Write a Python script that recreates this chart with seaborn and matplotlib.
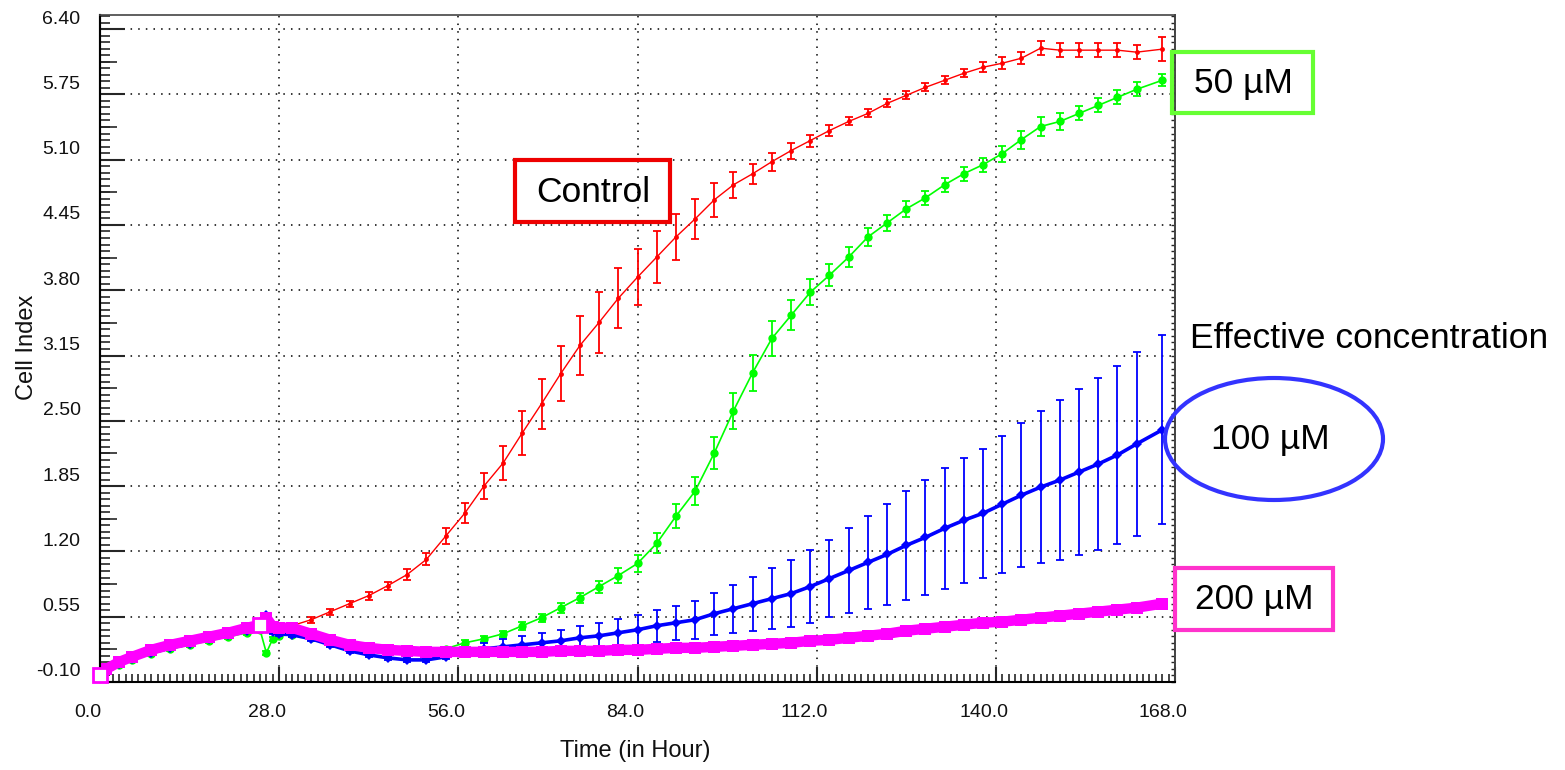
import numpy as np
import pandas as pd
import seaborn as sns
import matplotlib.pyplot as plt
from matplotlib.ticker import MultipleLocator, FixedLocator
from matplotlib.transforms import ScaledTranslation
from matplotlib.patches import Rectangle, Ellipse

# sampling times (hours)
hours = [0, 1, 3, 5, 8, 11, 14, 17, 20, 23,
         25, 26, 27, 28, 30, 33, 36, 39, 42, 45,
         48, 51, 54, 57, 60, 63, 66, 69, 72, 75,
         78, 81, 84, 87, 90, 93, 96, 99, 102, 105,
         108, 111, 114, 117, 120, 123, 126, 129, 132, 135,
         138, 141, 144, 147, 150, 153, 156, 159, 162, 166]

control = [-0.05, 0.02, 0.09, 0.14, 0.21, 0.26, 0.30, 0.34, 0.38, 0.42,
           0.45, 0.46, 0.45, 0.44, 0.46, 0.52, 0.60, 0.68, 0.76, 0.86,
           0.97, 1.12, 1.35, 1.58, 1.85, 2.08, 2.38, 2.67, 2.97, 3.25,
           3.48, 3.72, 3.93, 4.13, 4.33, 4.51, 4.70, 4.85, 4.96, 5.08,
           5.19, 5.29, 5.39, 5.48, 5.56, 5.66, 5.74, 5.82, 5.89, 5.96,
           6.02, 6.06, 6.11, 6.21, 6.19, 6.19, 6.19, 6.19, 6.17, 6.20]
control_err = [0.02, 0.02, 0.02, 0.02, 0.02, 0.02, 0.02, 0.02, 0.02, 0.02,
               0.02, 0.02, 0.02, 0.02, 0.03, 0.03, 0.03, 0.03, 0.04, 0.04,
               0.05, 0.06, 0.08, 0.10, 0.13, 0.17, 0.22, 0.25, 0.27, 0.29,
               0.30, 0.30, 0.28, 0.26, 0.23, 0.20, 0.17, 0.13, 0.10, 0.09,
               0.08, 0.06, 0.05, 0.04, 0.04, 0.04, 0.04, 0.04, 0.04, 0.04,
               0.05, 0.06, 0.06, 0.07, 0.07, 0.07, 0.07, 0.07, 0.07, 0.12]

um50 = [-0.05, 0.01, 0.07, 0.12, 0.18, 0.23, 0.27, 0.31, 0.35, 0.39,
        0.42, 0.19, 0.33, 0.36, 0.37, 0.34, 0.29, 0.25, 0.22, 0.21,
        0.20, 0.20, 0.23, 0.29, 0.33, 0.38, 0.46, 0.54, 0.64, 0.74,
        0.85, 0.96, 1.08, 1.28, 1.55, 1.80, 2.18, 2.60, 2.98, 3.32,
        3.55, 3.78, 3.95, 4.13, 4.33, 4.47, 4.61, 4.72, 4.85, 4.96,
        5.05, 5.16, 5.30, 5.43, 5.48, 5.56, 5.64, 5.72, 5.80, 5.89]
um50_err = [0.02, 0.02, 0.02, 0.02, 0.02, 0.02, 0.02, 0.02, 0.02, 0.02,
            0.02, 0.02, 0.02, 0.02, 0.02, 0.02, 0.02, 0.02, 0.02, 0.02,
            0.02, 0.02, 0.02, 0.03, 0.03, 0.03, 0.04, 0.04, 0.05, 0.05,
            0.06, 0.07, 0.08, 0.10, 0.12, 0.14, 0.16, 0.18, 0.18, 0.17,
            0.15, 0.13, 0.11, 0.10, 0.09, 0.08, 0.08, 0.07, 0.07, 0.07,
            0.07, 0.08, 0.09, 0.09, 0.08, 0.07, 0.07, 0.07, 0.07, 0.06]

um100 = [-0.05, 0.01, 0.08, 0.13, 0.19, 0.24, 0.28, 0.33, 0.37, 0.41,
         0.45, 0.57, 0.40, 0.38, 0.37, 0.33, 0.27, 0.21, 0.17, 0.14,
         0.12, 0.12, 0.15, 0.20, 0.23, 0.25, 0.27, 0.29, 0.31, 0.34,
         0.36, 0.39, 0.42, 0.46, 0.49, 0.52, 0.58, 0.63, 0.68, 0.73,
         0.78, 0.85, 0.93, 1.01, 1.09, 1.17, 1.26, 1.34, 1.43, 1.51,
         1.58, 1.67, 1.76, 1.84, 1.91, 1.99, 2.07, 2.16, 2.27, 2.41]
um100_err = [0.02, 0.02, 0.02, 0.02, 0.02, 0.02, 0.02, 0.02, 0.02, 0.02,
             0.02, 0.02, 0.02, 0.02, 0.02, 0.02, 0.02, 0.02, 0.02, 0.02,
             0.02, 0.02, 0.02, 0.04, 0.06, 0.08, 0.09, 0.10, 0.11, 0.12,
             0.13, 0.14, 0.15, 0.16, 0.17, 0.19, 0.21, 0.24, 0.27, 0.30,
             0.33, 0.36, 0.38, 0.42, 0.46, 0.50, 0.54, 0.57, 0.60, 0.62,
             0.64, 0.68, 0.72, 0.76, 0.80, 0.83, 0.86, 0.89, 0.92, 0.94]

um200 = [-0.03, 0.03, 0.10, 0.15, 0.22, 0.27, 0.31, 0.35, 0.39, 0.44,
         0.47, 0.54, 0.45, 0.44, 0.44, 0.38, 0.32, 0.27, 0.24, 0.22,
         0.21, 0.20, 0.20, 0.20, 0.20, 0.20, 0.20, 0.20, 0.21, 0.21,
         0.21, 0.22, 0.22, 0.23, 0.24, 0.24, 0.25, 0.26, 0.27, 0.28,
         0.29, 0.31, 0.32, 0.34, 0.36, 0.38, 0.41, 0.43, 0.45, 0.47,
         0.49, 0.50, 0.52, 0.54, 0.56, 0.58, 0.60, 0.62, 0.64, 0.68]
um200_err = [0.02, 0.02, 0.02, 0.02, 0.02, 0.02, 0.02, 0.02, 0.02, 0.02,
             0.02, 0.02, 0.02, 0.02, 0.02, 0.02, 0.02, 0.02, 0.02, 0.02,
             0.02, 0.02, 0.02, 0.02, 0.02, 0.02, 0.02, 0.02, 0.02, 0.02,
             0.02, 0.02, 0.02, 0.02, 0.02, 0.02, 0.03, 0.03, 0.03, 0.03,
             0.03, 0.03, 0.03, 0.03, 0.03, 0.03, 0.03, 0.03, 0.03, 0.03,
             0.03, 0.04, 0.04, 0.04, 0.04, 0.04, 0.04, 0.04, 0.04, 0.04]

x_ticks = [0, 28, 56, 84, 112, 140, 168]
x_tick_labels = ["0.0", "28.0", "56.0", "84.0", "112.0", "140.0", "168.0"]
y_ticks = [-0.10, 0.55, 1.20, 1.85, 2.50, 3.15, 3.80, 4.45, 5.10, 5.75, 6.40]
y_tick_labels = ["-0.10", "0.55", "1.20", "1.85", "2.50", "3.15",
                 "3.80", "4.45", "5.10", "5.75", "6.40"]

sns.set_theme(style="white")
plt.rcParams['font.family'] = ['Liberation Sans', 'DejaVu Sans']

W, H = 1565, 770
fig = plt.figure(figsize=(W / 100, H / 100), dpi=100)
ax = fig.add_axes([100 / W, 1 - 682 / H, 1075 / W, 667 / H])

series = [
    (control, control_err, '#ff0000', 1.0, 'o', 3.5),
    (um50, um50_err, '#00ff00', 1.2, 'o', 6),
    (um100, um100_err, '#0000ff', 2.6, 'D', 5),
    (um200, um200_err, '#ff00ff', 7.5, 's', 8),
]
for vals, err, color, lw, marker, ms in series:
    ax.errorbar(hours, vals, yerr=err, fmt='none', ecolor=color,
                elinewidth=1.3, capsize=3, capthick=1.3)
    df = pd.DataFrame({'hour': hours, 'ci': vals})
    sns.lineplot(data=df, x='hour', y='ci', color=color, lw=lw,
                 marker=marker, markersize=ms, markeredgewidth=0,
                 ax=ax, legend=False)

# open square markers on the 200 uM trace
ax.plot(hours, um200, ls='none', marker='s', ms=10, mfc='white',
        mec='#ff00ff', mew=2, markevery=[0, 10], clip_on=False, zorder=5)

ax.set_xlim(0, 168)
ax.set_ylim(-0.10, 6.54)
ax.set_xticks(x_ticks)
ax.set_xticklabels(x_tick_labels)
ax.set_yticks(y_ticks)
ax.set_yticklabels(y_tick_labels)
ax.xaxis.set_minor_locator(MultipleLocator(1))
ax.yaxis.set_minor_locator(MultipleLocator(0.065, offset=-0.10))

ax.tick_params(axis='y', which='major', direction='in', length=18, width=1.5,
               left=True, right=False, pad=14, labelsize=14, labelcolor='#111111')
ax.tick_params(axis='y', which='minor', direction='in', length=7, width=1.2,
               left=True, right=False)
ax.tick_params(axis='x', which='major', direction='in', length=11, width=1.5,
               bottom=True, top=False, pad=16, labelsize=14, labelcolor='#111111')
ax.tick_params(axis='x', which='minor', direction='in', length=5.5, width=1.2,
               bottom=True, top=False)

# medium ticks halfway between the major y ticks
mid = ax.secondary_yaxis('left')
mid.yaxis.set_major_locator(FixedLocator([t + 0.325 for t in y_ticks[:-1]]))
mid.tick_params(direction='in', length=12, width=1.2, labelleft=False)
mid.spines['left'].set_linewidth(1.5)

# small ticks along the right edge
rt = ax.secondary_yaxis('right')
rt.yaxis.set_major_locator(MultipleLocator(0.065, offset=-0.10))
rt.tick_params(direction='in', length=3, width=1.0, labelright=False)
rt.spines['right'].set_color('#444444')

ax.grid(True, which='major', color='black', lw=1.1, ls=(0, (1, 4)))
for side in ['left', 'bottom']:
    ax.spines[side].set_color('black')
    ax.spines[side].set_linewidth(1.5)
for side in ['top', 'right']:
    ax.spines[side].set_color('#444444')
    ax.spines[side].set_linewidth(1.2)

ax.set_xlabel("Time (in Hour)", fontsize=17, color='#111111')
ax.set_ylabel("Cell Index", fontsize=17, color='#111111')
ax.xaxis.set_label_coords(535 / 1075, -58 / 667)
ax.yaxis.set_label_coords(-62 / 1075, 335 / 667)

# tick labels sit up / left of their ticks, as in the instrument software
for lab in ax.get_yticklabels():
    lab.set_transform(lab.get_transform() + ScaledTranslation(0, 0.12, fig.dpi_scale_trans))
for lab in ax.get_xticklabels():
    lab.set_transform(lab.get_transform() + ScaledTranslation(-0.12, 0, fig.dpi_scale_trans))


def fx(px):
    return px / W


def fy(py):
    return 1 - py / H


def box(x0, y0, x1, y1, color):
    fig.add_artist(Rectangle((fx(x0), fy(y1)), fx(x1) - fx(x0), fy(y0) - fy(y1),
                             transform=fig.transFigure, fill=False, ec=color, lw=3))


note = dict(fontsize=25.5, color='black')
box(515, 160, 670, 222, '#ee0000')
fig.text(fx(593), fy(192), "Control", ha='center', va='center', **note)
box(1172, 52, 1313, 113, '#66ff33')
fig.text(fx(1243), fy(84), "50 µM", ha='center', va='center', **note)
box(1175, 568, 1333, 630, '#ff33cc')
fig.text(fx(1254), fy(600), "200 µM", ha='center', va='center', **note)
fig.add_artist(Ellipse((fx(1274), fy(439)), 218 / W, 122 / H, transform=fig.transFigure,
                       fill=False, ec='#3333ff', lw=3))
fig.text(fx(1270), fy(440), "100 µM", ha='center', va='center', **note)
fig.text(fx(1190), fy(338), "Effective concentration", ha='left', va='center', **note)

fig.savefig('out.png', dpi=100)
